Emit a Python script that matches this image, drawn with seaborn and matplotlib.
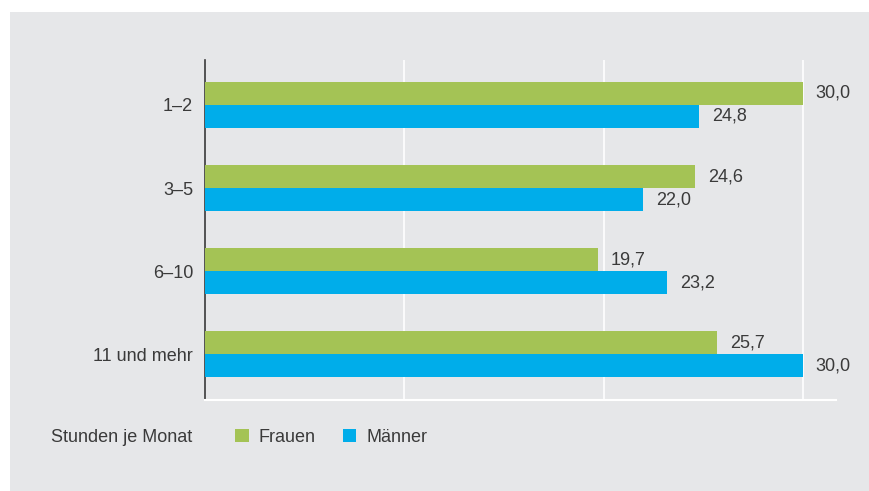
import numpy as np
import matplotlib.pyplot as plt
import pandas as pd
import seaborn as sns
from matplotlib.patches import Rectangle

# Data
categories = ["1–2", "3–5", "6–10", "11 und mehr"]
frauen = [30.0, 24.6, 19.7, 25.7]
maenner = [24.8, 22.0, 23.2, 30.0]
series = ["Frauen", "Männer"]
colors = ["#a4c355", "#00adea"]

df = pd.DataFrame({
    "Stunden": categories * 2,
    "Anteil": frauen + maenner,
    "Geschlecht": [series[0]] * 4 + [series[1]] * 4,
})

sns.set_style("white")
plt.rcParams["font.family"] = ["Liberation Sans", "DejaVu Sans"]
text_col = "#3a3a3a"
bg = "#e6e7e9"

fig = plt.figure(figsize=(8.69, 4.91), dpi=100, facecolor="white")
# gray panel behind everything
fig.patches.append(Rectangle((10 / 869, 0), 1, 1 - 12 / 491, transform=fig.transFigure,
                             facecolor=bg, edgecolor="none", zorder=-10))

ax = fig.add_axes([205 / 869, 1 - 400 / 491, 631 / 869, 340 / 491])
ax.set_facecolor(bg)

sns.barplot(data=df, y="Stunden", x="Anteil", hue="Geschlecht", orient="h",
            palette=colors, width=0.554, gap=0, saturation=1, ax=ax, legend=False,
            linewidth=0, zorder=3)

ax.set_xlim(0, 31.66)
ax.set_ylim(3.55, -0.54)
ax.set_xticks([10, 20, 30])
ax.set_xticklabels([])
ax.tick_params(axis="x", length=0)
ax.tick_params(axis="y", length=0, pad=8.5, labelsize=13, labelcolor=text_col)
ax.grid(axis="x", color="white", linewidth=1.2, zorder=0)
ax.set_xlabel("")
ax.set_ylabel("")

for side in ["top", "right"]:
    ax.spines[side].set_visible(False)
ax.spines["left"].set_color("#3a3a3a")
ax.spines["left"].set_linewidth(1.2)
ax.spines["bottom"].set_color("white")
ax.spines["bottom"].set_linewidth(1.5)

# value labels
for cont in ax.containers:
    labels = [f"{b.get_width():.1f}".replace(".", ",") for b in cont]
    ax.bar_label(cont, labels=labels, padding=9, fontsize=13, color=text_col)

# legend
fig.text(51 / 869, 1 - 437 / 491, "Stunden je Monat", fontsize=13, color=text_col,
         va="center", ha="left")
handles = [Rectangle((0, 0), 1, 1, facecolor=c, edgecolor="none") for c in colors]
fig.legend(handles, series, loc="center left", bbox_to_anchor=(235 / 869, 1 - 437 / 491),
           ncol=2, frameon=False, fontsize=13, labelcolor=text_col, borderpad=0,
           borderaxespad=0, handlelength=0.75, handleheight=0.75, handletextpad=0.57,
           columnspacing=1.5)

fig.savefig("out.png", dpi=100, facecolor="white")
